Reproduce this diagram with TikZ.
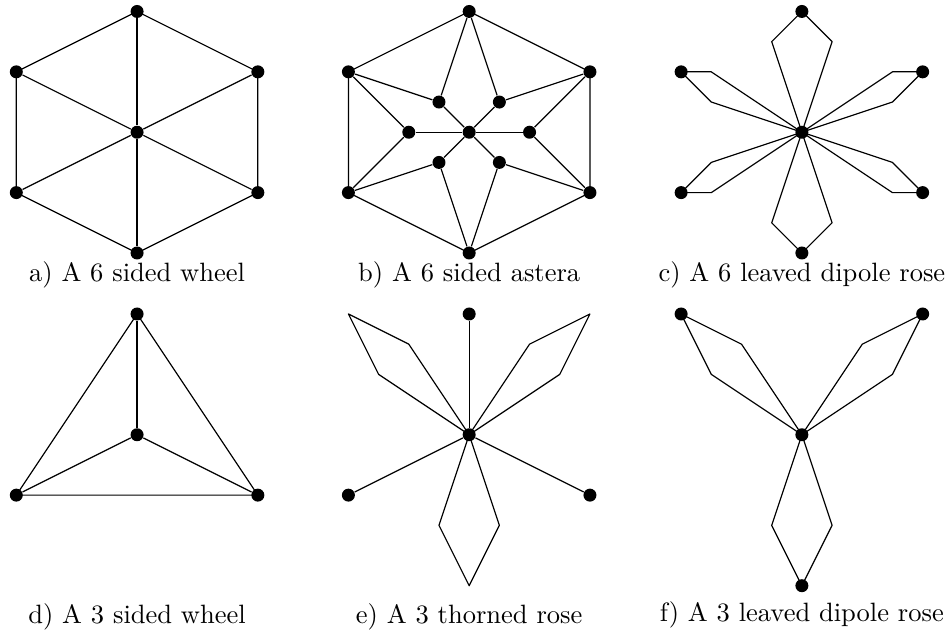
\documentclass[tikz,border=0pt]{standalone}
\begin{document}
\begin{tikzpicture}[x=22.77pt,y=22.77pt,
  dot/.style={circle,fill=black,draw=none,inner sep=0pt,minimum size=4.9pt},
  ln/.style={line width=0.45pt,line join=round},
  subcap/.style={anchor=base,inner sep=0pt,font=\fontsize{10}{12}\selectfont}]
\useasboundingbox (0,0) rectangle (15.70,-10.43);

% ---------- a) 6 sided wheel ----------
\begin{scope}[shift={(2.27,-2.19)}]
  \node[dot] (a0) at (0,0) {};
  \node[dot] (a1) at (0,2) {};
  \node[dot] (a2) at (2,1) {};
  \node[dot] (a3) at (2,-1) {};
  \node[dot] (a4) at (0,-2) {};
  \node[dot] (a5) at (-2,-1) {};
  \node[dot] (a6) at (-2,1) {};
  \draw[ln] (a1.center) -- (a2.center) -- (a3.center) -- (a4.center) -- (a5.center) -- (a6.center) -- cycle;
  \foreach \i in {1,...,6} \draw[ln] (a0) -- (a\i);
  \node[subcap] (la) at (0,-2.48) {a) A 6 sided wheel};
\end{scope}

% ---------- b) 6 sided astera ----------
\begin{scope}[shift={(7.77,-2.19)}]
  \node[dot] (b0) at (0,0) {};
  \node[dot] (b1) at (0,2) {};
  \node[dot] (b2) at (2,1) {};
  \node[dot] (b3) at (2,-1) {};
  \node[dot] (b4) at (0,-2) {};
  \node[dot] (b5) at (-2,-1) {};
  \node[dot] (b6) at (-2,1) {};
  \node[dot] (i1) at (-0.5,0.5) {};
  \node[dot] (i2) at (0.5,0.5) {};
  \node[dot] (i3) at (1,0) {};
  \node[dot] (i4) at (0.5,-0.5) {};
  \node[dot] (i5) at (-0.5,-0.5) {};
  \node[dot] (i6) at (-1,0) {};
  \draw[ln] (b1.center) -- (b2.center) -- (b3.center) -- (b4.center) -- (b5.center) -- (b6.center) -- cycle;
  \foreach \i in {1,...,6} \draw[ln] (b0) -- (i\i);
  \draw[ln] (b1) -- (i1); \draw[ln] (b1) -- (i2);
  \draw[ln] (b2) -- (i2); \draw[ln] (b2) -- (i3);
  \draw[ln] (b3) -- (i3); \draw[ln] (b3) -- (i4);
  \draw[ln] (b4) -- (i4); \draw[ln] (b4) -- (i5);
  \draw[ln] (b5) -- (i5); \draw[ln] (b5) -- (i6);
  \draw[ln] (b6) -- (i6); \draw[ln] (b6) -- (i1);
  \node[subcap] (lb) at (0,-2.48) {b) A 6 sided astera};
\end{scope}

% ---------- c) 6 leaved dipole rose ----------
\begin{scope}[shift={(13.28,-2.19)}]
  \node[dot] (c0) at (0,0) {};
  \node[dot] (c1) at (0,2) {};
  \node[dot] (c2) at (2,1) {};
  \node[dot] (c3) at (2,-1) {};
  \node[dot] (c4) at (0,-2) {};
  \node[dot] (c5) at (-2,-1) {};
  \node[dot] (c6) at (-2,1) {};
  \coordinate (c1l) at (-0.5,1.5); \coordinate (c1r) at (0.5,1.5);
  \coordinate (c2l) at (1.5,1);    \coordinate (c2r) at (1.5,0.5);
  \coordinate (c3l) at (1.5,-0.5); \coordinate (c3r) at (1.5,-1);
  \coordinate (c4l) at (0.5,-1.5); \coordinate (c4r) at (-0.5,-1.5);
  \coordinate (c5l) at (-1.5,-1);  \coordinate (c5r) at (-1.5,-0.5);
  \coordinate (c6l) at (-1.5,0.5); \coordinate (c6r) at (-1.5,1);
  \foreach \i in {1,...,6}
    \draw[ln] (c0.center) -- (c\i l) -- (c\i.center) -- (c\i r) -- cycle;
  \node[subcap] (lc) at (0,-2.48) {c) A 6 leaved dipole rose};
\end{scope}

% ---------- d) 3 sided wheel ----------
\begin{scope}[shift={(2.27,-7.20)}]
  \node[dot] (d0) at (0,0) {};
  \node[dot] (d1) at (0,2) {};
  \node[dot] (d2) at (2,-1) {};
  \node[dot] (d3) at (-2,-1) {};
  \draw[ln] (d1.center) -- (d2.center) -- (d3.center) -- cycle;
  \foreach \i in {1,2,3} \draw[ln] (d0) -- (d\i);
  \node[subcap] (ld) at (0,-3.13) {d) A 3 sided wheel};
\end{scope}

% ---------- e) 3 thorned rose ----------
\begin{scope}[shift={(7.77,-7.20)}]
  \node[dot] (e0) at (0,0) {};
  \node[dot] (e1) at (0,2) {};
  \node[dot] (e2) at (2,-1) {};
  \node[dot] (e3) at (-2,-1) {};
  \foreach \i in {1,2,3} \draw[ln] (e0) -- (e\i);
  \coordinate (et1) at (-2,2);   \coordinate (et1a) at (-1,1.5);  \coordinate (et1b) at (-1.5,1);
  \coordinate (et2) at (2,2);    \coordinate (et2a) at (1,1.5);   \coordinate (et2b) at (1.5,1);
  \coordinate (et3) at (0,-2.5); \coordinate (et3a) at (-0.5,-1.5); \coordinate (et3b) at (0.5,-1.5);
  \foreach \i in {1,2,3}
    \draw[ln] (e0.center) -- (et\i a) -- (et\i) -- (et\i b) -- cycle;
  \node[subcap] (le) at (0,-3.13) {e) A 3 thorned rose};
\end{scope}

% ---------- f) 3 leaved dipole rose ----------
\begin{scope}[shift={(13.28,-7.20)}]
  \node[dot] (f0) at (0,0) {};
  \node[dot] (f1) at (-2,2) {};
  \node[dot] (f2) at (2,2) {};
  \node[dot] (f3) at (0,-2.5) {};
  \coordinate (f1a) at (-1,1.5);   \coordinate (f1b) at (-1.5,1);
  \coordinate (f2a) at (1,1.5);    \coordinate (f2b) at (1.5,1);
  \coordinate (f3a) at (-0.5,-1.5); \coordinate (f3b) at (0.5,-1.5);
  \foreach \i in {1,2,3}
    \draw[ln] (f0.center) -- (f\i a) -- (f\i.center) -- (f\i b) -- cycle;
  \node[subcap] (lf) at (0,-3.09) {f) A 3 leaved dipole rose};
\end{scope}
\end{tikzpicture}
\end{document}
